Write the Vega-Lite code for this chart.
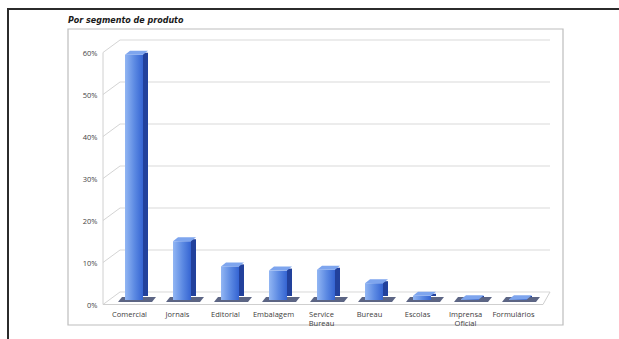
{
  "$schema": "https://vega.github.io/schema/vega-lite/v6.json",
  "width": 613,
  "height": 332,
  "autosize": {"type": "none"},
  "padding": {"left": 8, "top": 9, "right": -2, "bottom": -2},
  "background": "#ffffff",
  "config": {
    "view": {"stroke": "#2b2b2b", "strokeWidth": 2},
    "font": "Open Sans"
  },
  "title": {
    "text": "Por segmento de produto",
    "anchor": "start",
    "orient": "top",
    "dx": 60,
    "offset": -20,
    "baseline": "middle",
    "font": "DejaVu Sans",
    "fontSize": 8,
    "fontWeight": "bold",
    "fontStyle": "italic",
    "color": "#1a1a1a"
  },
  "resolve": {"axis": {"x": "independent", "y": "independent"}},
  "datasets": {
    "segmentos": [
      {"cat": "Comercial", "v": 58.4},
      {"cat": "Jornais", "v": 14},
      {"cat": "Editorial", "v": 8},
      {"cat": "Embalagem", "v": 7},
      {"cat": "Service Bureau", "v": 7.2},
      {"cat": "Bureau", "v": 4},
      {"cat": "Escolas", "v": 1},
      {"cat": "Imprensa Oficial", "v": 0.2},
      {"cat": "Formulários", "v": 0.2}
    ],
    "grade": [
      {"v": 0}, {"v": 10}, {"v": 20}, {"v": 30}, {"v": 40}, {"v": 50}, {"v": 60}
    ]
  },
  "layer": [
    {
      "description": "inner chart frame, carrying both axes",
      "data": {"values": [{}]},
      "mark": {"type": "rect", "fill": null, "stroke": "#bdbdbd", "strokeWidth": 1.2, "xOffset": -57, "x2Offset": 45},
      "encoding": {
        "x": {"datum": "Comercial", "type": "nominal", "bandPosition": 0,
              "scale": {"type": "band", "domain": ["Comercial", "Jornais", "Editorial", "Embalagem", "Service Bureau", "Bureau", "Escolas", "Imprensa Oficial", "Formulários"], "range": [117, 519], "paddingInner": 0.625, "paddingOuter": 0},
              "axis": {"title": null, "orient": "bottom", "offset": -36, "domain": false, "ticks": false, "grid": false,
                       "labelAngle": 0, "labelPadding": 5, "labelOffset": -4.5, "labelFontSize": 7.5, "labelColor": "#3d3d3d",
                       "labelFont": "Open Sans", "labelLineHeight": 9,
                       "labelExpr": "datum.label == 'Service Bureau' ? ['Service', 'Bureau'] : datum.label == 'Imprensa Oficial' ? ['Imprensa', 'Oficial'] : datum.label"}},
        "x2": {"datum": "Formulários"},
        "y": {"datum": 64.52, "type": "quantitative", "scale": {"domain": [-9.762, 69.286], "nice": false, "zero": false},
              "axis": {"title": null, "orient": "left", "offset": -92, "domain": false, "ticks": false, "grid": false,
                       "values": [0, 10, 20, 30, 40, 50, 60], "labelPadding": 3, "labelOffset": 5.5,
                       "labelFontSize": 7.5, "labelColor": "#444444", "labelFont": "Open Sans",
                       "labelExpr": "datum.value + '%'"}},
        "y2": {"datum": -5.95}
      }
    },
    {
      "description": "back wall gridlines",
      "data": {"name": "grade"},
      "mark": {"type": "rule", "stroke": "#d9d9d9", "strokeWidth": 1, "yOffset": -8, "xOffset": -5, "x2Offset": 32},
      "encoding": {
        "x": {"datum": "Comercial", "type": "nominal", "bandPosition": 0, "axis": null},
        "x2": {"datum": "Formulários"},
        "y": {"field": "v", "type": "quantitative", "axis": null}
      }
    },
    {
      "description": "side wall diagonals",
      "data": {"name": "grade"},
      "mark": {"type": "rule", "stroke": "#d4d4d4", "strokeWidth": 1, "yOffset": 4.5, "y2Offset": -8, "xOffset": -22, "x2Offset": -14},
      "encoding": {
        "x": {"datum": "Comercial", "type": "nominal", "bandPosition": 0, "axis": null},
        "x2": {"datum": "Comercial"},
        "y": {"field": "v", "type": "quantitative", "axis": null},
        "y2": {"field": "v"}
      }
    },
    {
      "description": "front edge of the side wall",
      "data": {"values": [{}]},
      "mark": {"type": "rule", "stroke": "#d0d0d0", "strokeWidth": 1, "yOffset": 4.5, "y2Offset": 4.5, "xOffset": -22},
      "encoding": {
        "x": {"datum": "Comercial", "type": "nominal", "bandPosition": 0, "axis": null},
        "y": {"datum": 0, "type": "quantitative", "axis": null},
        "y2": {"datum": 60}
      }
    },
    {
      "description": "floor front edge",
      "data": {"values": [{}]},
      "mark": {"type": "rule", "stroke": "#cfcfcf", "strokeWidth": 1, "yOffset": 4.5, "xOffset": -22, "x2Offset": 25},
      "encoding": {
        "x": {"datum": "Comercial", "type": "nominal", "bandPosition": 0, "axis": null},
        "x2": {"datum": "Formulários"},
        "y": {"datum": 0, "type": "quantitative", "axis": null}
      }
    },
    {
      "description": "floor right edge",
      "data": {"values": [{}]},
      "mark": {"type": "rule", "stroke": "#cfcfcf", "strokeWidth": 1, "yOffset": 4.5, "y2Offset": -8, "xOffset": 34, "x2Offset": 32},
      "encoding": {
        "x": {"datum": "Formulários", "type": "nominal", "bandPosition": 0, "axis": null},
        "x2": {"datum": "Formulários"},
        "y": {"datum": 0, "type": "quantitative", "axis": null},
        "y2": {"datum": 0}
      }
    },
    {
      "description": "floor shadows under each column",
      "data": {"name": "segmentos"},
      "mark": {"type": "point", "filled": true, "opacity": 0.85, "color": "#3f4a6e", "strokeWidth": 0, "size": 1444,
               "shape": "M -0.842 0.105 L 0.947 0.105 L 1.158 -0.158 L -0.632 -0.158 Z"},
      "encoding": {
        "x": {"field": "cat", "type": "nominal", "axis": null},
        "y": {"datum": 0, "type": "quantitative", "axis": null}
      }
    },
    {
      "description": "column side faces",
      "data": {"name": "segmentos"},
      "mark": {"type": "bar", "width": 5, "xOffset": 11.5, "yOffset": -2, "y2Offset": -4, "color": "#22419c"},
      "encoding": {
        "x": {"field": "cat", "type": "nominal", "axis": null},
        "y": {"field": "v", "type": "quantitative", "axis": null},
        "y2": {"datum": 0}
      }
    },
    {
      "description": "column front faces",
      "data": {"name": "segmentos"},
      "mark": {"type": "bar",
               "color": {"gradient": "linear", "x1": 0, "y1": 0, "x2": 1, "y2": 0,
                         "stops": [{"offset": 0, "color": "#92b6f3"}, {"offset": 0.55, "color": "#5a88e2"}, {"offset": 1, "color": "#3564d2"}]}},
      "encoding": {
        "x": {"field": "cat", "type": "nominal", "axis": null},
        "y": {"field": "v", "type": "quantitative", "axis": null},
        "y2": {"datum": 0}
      }
    },
    {
      "description": "column top faces",
      "data": {"name": "segmentos"},
      "mark": {"type": "point", "filled": true, "opacity": 1, "color": "#7ea5ee", "strokeWidth": 0, "size": 784,
               "shape": "M -0.643 0 L 0.643 0 L 1 -0.286 L -0.286 -0.286 Z"},
      "encoding": {
        "x": {"field": "cat", "type": "nominal", "axis": null},
        "y": {"field": "v", "type": "quantitative", "axis": null}
      }
    }
  ]
}
